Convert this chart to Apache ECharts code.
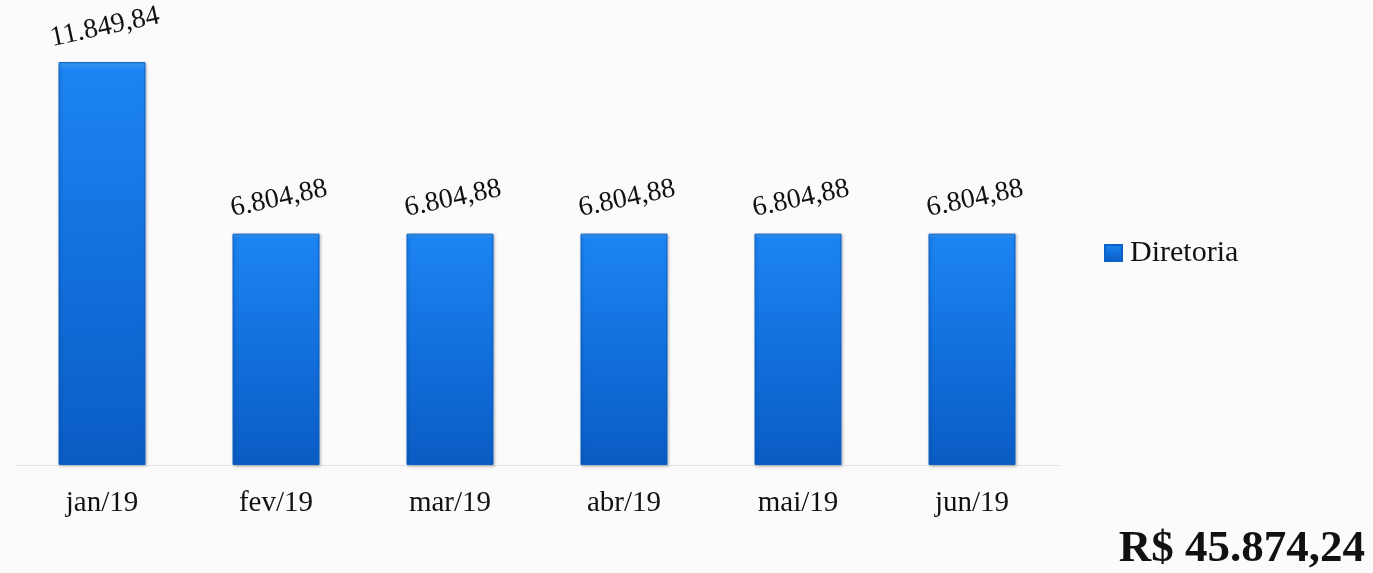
<!DOCTYPE html>
<html>
<head>
<meta charset="utf-8">
<script src="https://cdn.jsdelivr.net/npm/echarts@6/dist/echarts.min.js"></script>
<style>html,body{margin:0;padding:0;background:#fbfbfb;}#c{width:1373px;height:573px;}</style>
</head>
<body>
<div id="c"></div>
<script>
var categories = ['jan/19','fev/19','mar/19','abr/19','mai/19','jun/19'];
var seriesName = 'Diretoria';
var values = [11849.84, 6804.88, 6804.88, 6804.88, 6804.88, 6804.88];
var totalText = 'R$ 45.874,24';

function fmt(v){
  var parts = v.toFixed(2).split('.');
  var intPart = parts[0].replace(/\B(?=(\d{3})+(?!\d))/g, '.');
  return intPart + ',' + parts[1];
}

var serif = '"Liberation Serif", "DejaVu Serif", serif';
var chart = echarts.init(document.getElementById('c'));
chart.setOption({
  backgroundColor: '#fbfbfb',
  animation: false,
  grid: {left: 15, right: 314, top: 57, height: 408},
  legend: {
    data: [seriesName], orient: 'vertical', left: 1099, top: 233,
    icon: 'rect', itemWidth: 17, itemHeight: 16, itemGap: 6,
    textStyle: {fontFamily: serif, fontSize: 30, color: '#111', padding: [0, 0, 0, 3]}
  },
  xAxis: {
    type: 'category', data: categories,
    axisLine: {lineStyle: {color: '#e3e3e3', width: 1}},
    axisTick: {show: false},
    axisLabel: {fontFamily: serif, fontSize: 29, color: '#111', margin: 24}
  },
  yAxis: {type: 'value', min: 0, max: 12000, show: false, splitLine: {show: false}},
  series: [{
    name: seriesName, type: 'bar', data: values, barWidth: '50%',
    itemStyle: {
      color: new echarts.graphic.LinearGradient(0, 0, 0, 1, [
        {offset: 0, color: '#3d9ff8'},
        {offset: 0.02, color: '#1c84f2'},
        {offset: 0.5, color: '#1270dc'},
        {offset: 1, color: '#0b5cc4'}
      ]),
      borderColor: '#0b62c9', borderWidth: 1,
      shadowColor: 'rgba(0,0,0,0.25)', shadowBlur: 3, shadowOffsetX: 1, shadowOffsetY: 1
    },
    label: {
      show: true, position: 'top', rotate: 12, distance: 20, offset: [6, 0],
      fontFamily: serif, fontSize: 28, color: '#111',
      formatter: function(p){ return fmt(p.value); }
    }
  }],
  graphic: [{
    type: 'text', right: 8, top: 527,
    style: {text: totalText, font: 'bold 45px "Liberation Serif", serif', fill: '#111'}
  }]
});
</script>
</body>
</html>
